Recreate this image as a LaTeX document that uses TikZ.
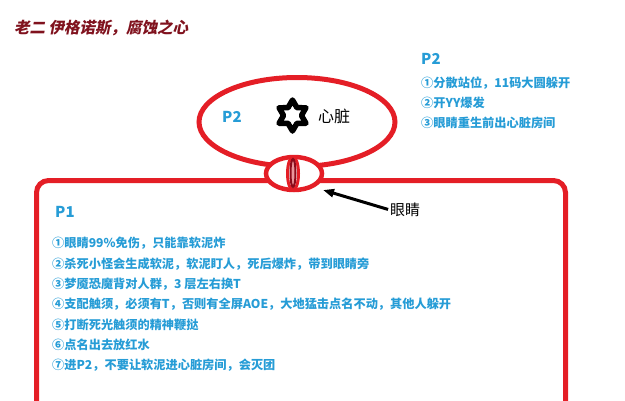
\documentclass[tikz,border=0pt]{standalone}
\usepackage{fontspec}
\setmainfont{Noto Sans CJK SC}
\newfontfamily\titlefont[BoldFeatures={FakeSlant=0.2}]{Noto Sans CJK SC}
\usetikzlibrary{shapes.geometric}
\usetikzlibrary{arrows.meta}
\definecolor{wallred}{RGB}{228, 30, 38}
\definecolor{noteblue}{RGB}{38, 156, 214}
\definecolor{titlered}{RGB}{128, 18, 30}
\definecolor{slitred}{RGB}{140, 10, 25}
\definecolor{slitpink}{RGB}{235, 150, 155}

\begin{document}
\begin{tikzpicture}[every node/.style={inner sep=0pt},
  wall/.style={draw=wallred, line width=5pt},
  head/.style={anchor=west, text=noteblue, font=\bfseries\fontsize{15}{18}\selectfont},
  note/.style={anchor=west, text=noteblue, font=\bfseries\fontsize{12.2}{14}\selectfont}]
\useasboundingbox (0pt, 0pt) rectangle (625pt, -400pt);
\clip (0pt, 0pt) rectangle (625pt, -400pt);
\node (title) [anchor=west, text=titlered, font=\titlefont\bfseries\fontsize{15.5}{18}\selectfont] at (14pt, -28pt) {老二 伊格诺斯，腐蚀之心};
% P1 room
\draw [wall, rounded corners=12pt] (36.5pt, -430pt) -- (36.5pt, -180.5pt) -- (565.5pt, -180.5pt) -- (565.5pt, -430pt);
% heart room and eye
\node (heart) [ellipse, wall, minimum width=196pt, minimum height=89pt] at (297pt, -122pt) {};
\node (eye) [ellipse, wall, fill=white, line width=4.5pt, minimum width=56pt, minimum height=33pt] at (294pt, -173.5pt) {};
\node (iris) [ellipse, draw=wallred, line width=3pt, minimum width=11pt, minimum height=33pt] at (293pt, -173.5pt) {};
\node (slit) [ellipse, draw=slitred, fill=slitpink, line width=2pt, minimum width=5pt, minimum height=28pt] at (293pt, -173pt) {};
\node (core) [star, star points=6, star point ratio=1.73, draw=black, line width=5.5pt, line join=round, minimum size=31pt] at (292.5pt, -115.5pt) {};
\node (corelabel) [anchor=west, font=\fontsize{16}{18}\selectfont] at (318pt, -116.5pt) {心脏};
\node (p2room) [head] at (222pt, -117pt) {P2};
% eye label
\node (eyelabel) [anchor=west, font=\fontsize{15}{18}\selectfont] at (390pt, -210pt) {眼睛};
\coordinate (eyetip) at (323pt, -190pt);
\draw [-{Triangle[length=11pt, width=8pt]}, line width=3pt, shorten <=2pt] (eyelabel.west) -- (eyetip);
% P2 notes
\node (p2) [head] at (421pt, -58.5pt) {P2};
\node (p2a) [note] at (421pt, -83pt) {①分散站位，11码大圆躲开};
\node (p2b) [note] at (421pt, -103pt) {②开YY爆发};
\node (p2c) [note] at (421pt, -122.5pt) {③眼睛重生前出心脏房间};
% P1 notes
\node (p1) [head] at (55pt, -212pt) {P1};
\node (p1a) [note] at (52pt, -243pt) {①眼睛99\%免伤，只能靠软泥炸};
\node (p1b) [note] at (52pt, -264pt) {②杀死小怪会生成软泥，软泥盯人，死后爆炸，带到眼睛旁};
\node (p1c) [note] at (52pt, -284pt) {③梦魇恐魔背对人群，3 层左右换T};
\node (p1d) [note] at (52pt, -304pt) {④支配触须，必须有T，否则有全屏AOE，大地猛击点名不动，其他人躲开};
\node (p1e) [note] at (52pt, -324.5pt) {⑤打断死光触须的精神鞭挞};
\node (p1f) [note] at (52pt, -345pt) {⑥点名出去放红水};
\node (p1g) [note] at (52pt, -365.5pt) {⑦进P2，不要让软泥进心脏房间，会灭团};
\end{tikzpicture}
\end{document}
